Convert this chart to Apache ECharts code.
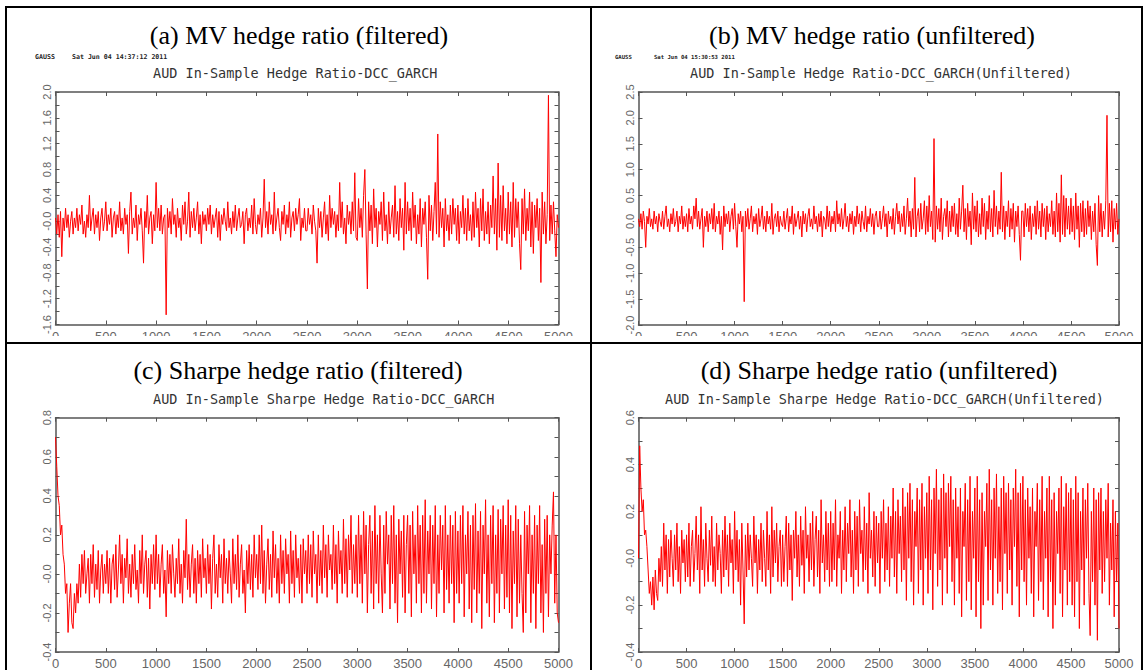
<!DOCTYPE html>
<html><head><meta charset="utf-8">
<script src="https://cdn.jsdelivr.net/npm/echarts@6/dist/echarts.min.js"></script>
<style>html,body{margin:0;padding:0;background:#fff;}#c{width:1144px;height:670px;}</style>
</head><body><div id="c"></div>
<script>
// ---------------- data ----------------
const sampleStep = 12.5; // spacing of the sampled observations (x units)
const panelTitles = ['(a) MV hedge ratio (filtered)', '(b) MV hedge ratio (unfiltered)',
                     '(c) Sharpe hedge ratio (filtered)', '(d) Sharpe hedge ratio (unfiltered)'];
const subTitles = ['AUD In-Sample Hedge Ratio-DCC_GARCH', 'AUD In-Sample Hedge Ratio-DCC_GARCH(Unfiltered)',
                   'AUD In-Sample Sharpe Hedge Ratio-DCC_GARCH', 'AUD In-Sample Sharpe Hedge Ratio-DCC_GARCH(Unfiltered)'];
const stampNames = ['GAUSS', 'GAUSS'];
const stampDates = ['Sat Jun 04 14:37:12 2011', 'Sat Jun 04 15:30:53 2011'];
const zeroLabels = ['-0.0', '0.0', '-0.0', '-0.0'];

const mvFiltered = [
 0.05,-0.2,0.1,-0.25,0.15,-0.55,0.05,-0.15,0.2,-0.1,0.1,-0.25,0.0,0.15,-0.2,0.05,-0.1,0.2,-0.15,0.1,
 -0.05,0.25,-0.2,0.0,-0.25,0.1,-0.1,0.4,-0.15,0.05,0.2,-0.2,0.1,-0.1,0.15,-0.3,0.05,0.2,-0.15,0.0,
 0.3,-0.15,0.1,-0.05,0.2,-0.25,0.05,0.15,-0.2,0.1,-0.1,0.3,-0.15,0.05,-0.2,0.2,-0.05,0.1,-0.5,0.15,
 0.45,-0.2,0.05,-0.1,0.25,-0.3,0.1,-0.05,0.2,-0.15,-0.65,0.15,-0.1,0.4,-0.2,0.05,0.15,-0.35,0.1,-0.15,
 0.6,-0.1,0.2,-0.15,0.25,-0.2,0.05,0.1,-1.45,0.2,-0.1,0.15,-0.2,0.35,-0.05,0.1,-0.25,0.2,-0.1,0.05,
 -0.3,0.25,-0.05,0.3,-0.2,0.0,0.45,-0.25,0.15,-0.1,0.2,-0.15,0.05,0.3,-0.2,0.1,-0.35,0.15,-0.05,0.1,
 -0.15,0.2,-0.05,0.25,-0.2,0.1,-0.1,0.05,0.2,-0.25,0.15,-0.3,0.1,-0.05,0.2,0.0,-0.15,0.3,-0.1,0.05,
 -0.2,0.15,-0.1,0.25,-0.15,0.05,0.2,-0.1,-0.05,0.15,-0.35,0.1,0.2,-0.15,0.05,-0.1,0.25,-0.2,0.35,-0.05,
 -0.2,0.1,-0.05,0.2,-0.25,0.05,0.65,-0.1,0.15,-0.2,0.3,-0.05,0.1,-0.2,0.45,-0.15,0.05,0.2,-0.1,-0.3,
 0.15,-0.05,0.25,-0.2,0.1,-0.1,0.3,-0.25,0.05,0.15,-0.15,0.2,-0.05,0.1,0.35,-0.3,0.05,-0.1,0.2,-0.15,
 -0.15,0.2,-0.05,0.1,-0.2,0.25,0.0,-0.15,-0.65,0.2,-0.1,0.15,-0.25,0.05,0.3,-0.2,0.1,-0.3,0.4,-0.1,
 0.2,-0.05,0.15,-0.25,0.1,-0.15,0.6,-0.1,0.3,-0.2,0.05,-0.35,0.25,-0.05,0.15,-0.2,0.3,-0.15,0.75,-0.25,
 -0.3,0.35,-0.1,0.2,-0.25,0.4,0.8,-0.2,-1.05,0.3,-0.15,0.25,-0.35,0.5,-0.1,0.2,-0.4,0.15,-0.05,0.3,
 -0.3,0.45,-0.15,0.1,-0.35,0.3,-0.2,0.05,0.25,-0.25,0.55,-0.2,0.15,-0.3,0.35,-0.1,0.2,-0.45,0.6,-0.2,
 0.3,-0.15,0.2,-0.3,0.45,-0.1,0.25,-0.35,0.1,-0.2,0.35,-0.4,0.2,-0.05,0.3,-0.25,-0.9,0.4,-0.15,0.25,
 -0.3,0.15,0.6,-0.2,1.35,-0.25,0.3,-0.1,0.2,-0.4,0.35,-0.15,0.1,-0.3,0.25,-0.2,0.35,-0.05,0.2,-0.3,
 0.25,-0.35,0.15,-0.1,0.4,-0.2,0.2,-0.3,0.35,-0.15,0.1,-0.3,0.3,-0.25,0.45,-0.1,0.2,-0.4,0.35,-0.15,
 0.5,-0.3,0.15,-0.2,0.3,-0.35,0.25,-0.1,0.7,-0.2,0.35,-0.45,0.9,-0.25,0.4,-0.3,0.55,-0.15,0.2,-0.35,
 0.45,-0.2,0.3,-0.4,0.6,-0.25,0.35,-0.1,0.3,-0.35,-0.75,0.35,-0.2,0.5,-0.3,0.2,-0.15,0.45,-0.4,0.3,
 -0.5,0.25,-0.1,0.35,-0.3,0.2,-0.95,0.45,-0.2,0.3,-0.35,0.1,1.95,-0.3,0.25,-0.2,0.3,-0.15,-0.55,0.1,
 -0.1];

const mvUnfiltered = [
 0.05,-0.1,0.15,-0.15,0.2,0.0,-0.5,0.1,-0.05,0.25,-0.1,0.05,-0.15,0.2,-0.05,0.1,-0.2,0.15,0.0,-0.1,
 0.2,-0.15,0.1,0.3,-0.1,0.05,-0.2,0.15,-0.05,0.25,-0.1,0.0,0.2,-0.2,0.1,-0.05,0.3,-0.15,0.1,-0.1,
 0.15,-0.2,0.25,-0.05,0.1,-0.15,0.3,0.05,0.45,-0.1,0.2,-0.15,0.05,0.25,-0.5,0.1,-0.1,0.2,-0.2,0.15,
 -0.05,0.25,-0.15,0.35,-0.2,0.1,-0.05,0.2,-0.25,0.1,-0.55,0.3,-0.1,0.15,-0.05,0.2,-0.2,0.1,0.25,-0.15,
 0.35,-0.1,-0.5,0.15,-0.05,0.2,-0.2,0.1,-1.55,0.2,-0.1,0.25,-0.15,0.05,0.3,-0.2,0.1,-0.05,0.15,-0.25,
 0.25,-0.1,0.05,0.3,-0.15,0.1,-0.2,0.2,-0.05,0.1,-0.15,0.35,-0.25,0.05,0.15,-0.1,0.2,-0.2,0.1,-0.05,
 -0.1,0.2,-0.15,0.05,0.25,-0.2,0.1,-0.05,0.3,-0.25,0.15,-0.1,0.05,0.2,-0.15,0.1,-0.3,0.2,-0.05,0.15,
 -0.2,0.1,0.25,-0.1,0.05,-0.15,0.3,-0.05,0.1,-0.2,0.15,-0.1,0.2,-0.3,0.1,0.05,-0.15,0.3,-0.1,0.2,
 -0.2,0.1,-0.05,0.2,-0.2,0.4,-0.05,0.15,-0.1,0.25,-0.15,0.05,0.35,-0.1,0.1,-0.2,0.15,-0.05,0.2,-0.25,
 0.1,-0.1,0.3,-0.05,0.15,-0.2,0.2,0.0,-0.15,0.3,-0.2,0.1,-0.05,0.25,-0.1,0.15,-0.25,0.1,0.2,-0.1,
 -0.1,0.2,-0.15,0.05,0.3,-0.1,0.15,-0.3,0.2,-0.05,0.1,-0.15,0.25,-0.25,0.1,0.35,-0.05,0.2,-0.2,0.15,
 -0.1,0.3,-0.25,0.05,0.45,-0.1,0.2,-0.3,0.25,-0.15,0.85,-0.3,0.1,0.25,-0.2,0.35,-0.15,0.05,0.4,-0.25,
 0.3,-0.2,0.5,-0.1,0.2,-0.35,1.6,-0.4,0.3,-0.15,0.25,-0.2,0.45,-0.35,0.1,0.25,-0.1,0.4,-0.3,0.2,
 -0.2,0.3,-0.1,0.35,-0.25,0.15,-0.3,0.45,-0.15,0.2,0.7,-0.2,0.25,-0.35,0.35,-0.1,0.2,-0.45,0.55,-0.15,
 0.3,-0.2,0.4,-0.3,0.15,-0.25,0.45,-0.1,0.35,-0.35,0.2,-0.15,0.5,-0.2,0.25,-0.3,0.6,-0.1,0.3,-0.25,
 0.2,-0.15,0.95,-0.2,0.3,-0.35,0.2,-0.1,0.4,-0.3,0.25,-0.15,0.35,-0.4,0.2,-0.1,0.3,-0.25,-0.75,0.2,
 0.2,-0.3,0.35,-0.1,0.25,-0.2,0.3,-0.35,0.15,-0.1,0.3,-0.25,0.4,-0.15,0.2,-0.3,0.35,-0.1,0.25,-0.35,
 0.3,-0.2,0.15,-0.1,0.4,-0.25,0.2,-0.3,0.55,-0.2,0.35,-0.4,0.9,-0.25,0.5,-0.3,0.45,-0.15,0.3,-0.25,
 0.45,-0.2,0.3,-0.35,0.55,-0.15,0.3,-0.5,0.35,-0.2,0.4,-0.3,0.25,-0.25,0.4,-0.1,0.3,-0.35,0.2,-0.2,
 0.35,-0.45,-0.85,0.5,-0.2,0.35,-0.3,0.2,-0.15,0.4,2.05,-0.3,0.35,-0.2,0.4,-0.4,0.25,-0.15,0.35,-0.25,
 0.05];

const sharpeFiltered = [
 0.7,0.55,0.4,0.35,0.2,0.25,0.1,0.05,-0.1,-0.05,-0.3,-0.15,-0.05,-0.25,-0.28,-0.1,-0.2,-0.05,-0.15,0.05,
 -0.12,0.1,-0.05,0.12,-0.1,0.0,0.08,-0.15,0.1,-0.05,0.15,-0.12,0.05,-0.08,0.12,-0.15,0.02,0.1,-0.1,0.05,
 -0.05,0.12,-0.1,0.08,-0.15,0.05,0.1,-0.08,0.15,-0.12,0.02,0.2,-0.05,0.1,-0.15,0.08,-0.02,0.18,-0.1,0.05,
 -0.12,0.1,-0.05,0.15,-0.08,0.02,-0.15,0.12,-0.05,0.2,-0.1,0.05,0.12,-0.12,0.08,-0.18,0.1,-0.05,0.15,-0.08,
 0.2,-0.05,0.1,-0.12,0.05,0.15,-0.1,0.02,-0.22,0.12,-0.05,0.1,-0.1,0.15,0.0,-0.12,0.08,-0.05,0.18,-0.1,
 0.05,-0.15,0.12,-0.02,0.28,-0.08,0.1,-0.12,0.05,0.15,-0.1,0.08,-0.15,0.12,-0.05,0.1,-0.12,0.18,-0.02,0.08,
 -0.1,0.15,-0.05,0.1,-0.18,0.08,0.2,-0.1,0.05,-0.12,0.15,-0.02,0.1,-0.15,0.18,-0.05,0.08,-0.1,0.12,0.0,
 -0.15,0.18,-0.05,0.1,-0.08,0.2,-0.12,0.05,0.15,-0.1,0.02,-0.2,0.12,-0.05,0.15,-0.08,0.1,-0.12,0.2,-0.02,
 0.1,-0.08,0.2,-0.05,0.25,-0.1,0.12,-0.15,0.05,0.18,-0.08,0.1,-0.12,0.22,-0.02,0.15,-0.1,0.08,-0.15,0.2,
 -0.05,0.12,-0.1,0.18,0.0,0.1,-0.15,0.22,-0.05,0.12,-0.12,0.2,-0.02,0.08,-0.1,0.15,-0.15,0.18,0.0,0.12,
 -0.1,0.2,-0.05,0.15,-0.12,0.22,0.0,0.1,-0.15,0.2,-0.06,0.12,-0.1,0.25,-0.02,0.15,-0.12,0.2,0.02,0.1,
 -0.08,0.25,-0.05,0.15,-0.15,0.22,0.0,0.12,-0.1,0.28,-0.05,0.18,-0.12,0.2,0.02,0.3,-0.1,0.15,-0.05,0.2,
 -0.12,0.3,-0.05,0.2,-0.15,0.32,0.0,0.25,-0.2,0.15,0.3,-0.1,0.22,-0.18,0.35,-0.05,0.2,-0.15,0.3,0.0,
 -0.2,0.25,-0.1,0.32,0.05,0.2,-0.18,0.3,-0.05,0.35,-0.15,0.2,-0.25,0.28,0.0,0.22,-0.12,0.3,-0.2,0.15,
 0.3,-0.1,0.25,-0.22,0.32,0.0,0.2,-0.15,0.35,-0.05,0.25,-0.2,0.3,-0.1,0.38,-0.15,0.22,0.0,0.3,-0.18,
 0.25,-0.05,0.35,-0.22,0.2,-0.1,0.3,0.02,0.25,-0.2,0.35,-0.08,0.2,-0.15,0.3,-0.05,0.25,-0.25,0.32,-0.1,
 0.22,-0.15,0.3,-0.05,0.35,-0.22,0.2,0.0,0.32,-0.18,0.25,-0.25,0.3,-0.08,0.36,-0.2,0.22,-0.1,0.32,-0.28,
 0.25,0.0,0.38,-0.15,0.2,-0.22,0.3,-0.05,0.35,-0.25,0.2,-0.1,0.33,-0.2,0.28,0.0,0.35,-0.18,0.25,-0.12,
 0.38,-0.2,0.3,-0.28,0.22,-0.05,0.35,-0.22,0.28,-0.15,0.2,-0.1,-0.3,0.32,-0.2,0.25,0.0,0.35,-0.25,0.2,
 -0.1,0.3,-0.28,0.25,-0.05,0.35,-0.2,0.15,-0.3,0.28,-0.1,0.3,-0.22,0.2,0.0,0.25,0.42,-0.15,0.2,-0.2,
 -0.25];

const sharpeUnfiltered = [
 0.0,0.48,0.3,0.2,0.25,0.1,0.12,0.05,-0.05,-0.15,-0.1,-0.2,-0.08,-0.22,-0.05,-0.15,-0.18,0.0,-0.1,0.05,
 -0.12,0.15,-0.05,0.1,-0.15,0.08,-0.08,0.12,0.0,-0.12,0.1,-0.05,0.15,-0.1,0.05,-0.15,0.12,-0.02,0.08,-0.1,
 0.1,-0.08,0.15,-0.12,0.05,0.12,-0.1,0.02,0.18,-0.05,0.1,-0.15,0.22,-0.05,0.08,-0.12,0.15,0.0,-0.1,0.12,
 -0.03,0.18,-0.1,0.05,-0.12,0.15,-0.05,0.1,0.02,-0.15,0.12,-0.08,0.18,-0.05,0.1,-0.12,0.15,-0.02,0.08,-0.15,
 0.2,-0.05,0.12,-0.1,0.08,-0.2,0.15,-0.05,-0.28,0.1,-0.08,0.15,-0.05,0.1,0.0,-0.12,0.18,-0.02,0.1,-0.15,
 0.08,-0.05,0.15,-0.1,0.12,0.0,-0.12,0.2,-0.05,0.1,-0.15,0.22,-0.08,0.12,-0.02,0.15,-0.1,0.05,0.12,-0.12,
 0.1,-0.1,0.05,0.18,-0.12,0.15,-0.05,0.1,-0.18,0.12,0.0,0.2,-0.08,0.1,-0.12,0.18,-0.03,0.12,-0.15,0.22,
 0.0,0.1,-0.1,0.15,-0.05,0.2,-0.12,0.08,0.18,-0.08,0.12,-0.15,0.25,-0.02,0.1,-0.1,0.2,-0.05,0.15,-0.12,
 0.2,-0.1,0.15,-0.05,0.25,-0.12,0.1,0.0,0.2,-0.15,0.12,-0.05,0.22,-0.1,0.15,0.02,0.25,-0.08,0.12,-0.15,
 0.2,-0.05,0.18,-0.12,0.25,0.02,0.12,-0.1,0.22,-0.05,0.15,-0.15,0.28,0.0,0.12,-0.08,0.2,-0.12,0.18,-0.02,
 0.15,-0.15,0.2,0.0,0.25,-0.1,0.15,-0.05,0.22,-0.12,0.18,0.0,0.3,-0.08,0.2,-0.15,0.25,0.02,0.18,-0.1,
 0.3,-0.05,0.22,-0.18,0.28,0.0,0.32,-0.1,0.25,-0.2,0.2,0.05,0.3,-0.15,0.25,-0.05,0.32,-0.2,0.22,0.0,
 0.28,-0.15,0.35,-0.05,0.25,-0.22,0.3,0.02,0.38,-0.12,0.25,-0.05,0.3,-0.2,0.36,0.0,0.28,-0.15,0.32,0.05,
 0.35,-0.1,0.25,-0.2,0.3,0.0,0.22,-0.15,0.3,-0.25,0.2,0.05,0.32,-0.18,0.25,-0.1,0.35,-0.22,0.2,0.0,
 0.3,-0.25,0.35,-0.1,0.25,-0.3,0.28,-0.2,0.2,0.05,0.32,-0.18,0.38,-0.05,0.25,-0.2,0.3,0.0,0.36,-0.15,
 0.22,-0.1,0.3,-0.22,0.35,0.02,0.28,-0.15,0.32,-0.05,0.25,-0.2,0.3,0.05,0.38,-0.12,0.28,-0.25,0.32,-0.05,
 0.35,-0.1,0.25,-0.2,0.3,0.0,0.22,-0.15,0.3,-0.25,0.2,0.05,0.32,-0.18,0.25,-0.1,0.35,-0.22,0.2,0.0,
 0.3,-0.25,0.35,-0.1,0.25,-0.3,0.28,-0.2,0.2,0.02,0.3,-0.15,0.35,-0.25,0.22,-0.05,0.32,-0.2,0.28,-0.1,
 0.3,-0.2,0.25,-0.25,0.35,-0.1,0.28,-0.3,0.2,-0.05,0.3,-0.2,0.25,0.0,0.32,-0.15,-0.33,0.2,-0.1,0.3,
 -0.2,0.25,-0.35,0.28,-0.05,0.3,-0.15,0.2,-0.1,0.25,0.0,0.32,-0.2,0.15,-0.05,0.25,-0.25,0.2,-0.1,0.15,
 -0.3];

const seriesList = [mvFiltered, mvUnfiltered, sharpeFiltered, sharpeUnfiltered];
const yRanges = [[-1.6, 2.0, 0.4], [-2.0, 2.5, 0.5], [-0.4, 0.8, 0.2], [-0.4, 0.6, 0.2]];
const yMinor = [true, false, true, true];

// ---------------- layout ----------------
const gridBoxes = [
  {left: 55.5, top: 92, width: 503, height: 232.5},
  {left: 638.5, top: 92, width: 480.5, height: 233},
  {left: 55.5, top: 417.7, width: 503, height: 237.6},
  {left: 638.5, top: 417.7, width: 480.5, height: 237.6}
];
const titlePos = [[299, 35], [872, 35], [298, 370], [879, 370]];
const subPos = [[153, 73], [690, 73], [153, 399], [665, 399]];

const axisColor = '#555';
const labelColor = '#666';

const xAxes = [], yAxes = [], series = [];
gridBoxes.forEach((g, i) => {
  const [ymin, ymax, yint] = yRanges[i];
  const baseX = {
    type: 'value', gridIndex: i, min: 0, max: 5000, interval: 500,
    axisLine: {show: true, onZero: false, lineStyle: {color: axisColor, width: 1.5}},
    axisTick: {show: true, inside: true, length: 4, lineStyle: {color: axisColor, width: 1}},
    splitLine: {show: false}
  };
  xAxes.push(Object.assign({}, baseX, {position: 'bottom',
    axisLabel: {show: true, margin: 5, fontSize: 13, color: labelColor, fontFamily: 'Liberation Sans',
      showMinLabel: true, showMaxLabel: true, formatter: v => String(v)}}));
  xAxes.push(Object.assign({}, baseX, {position: 'top', axisLabel: {show: false}}));
  const baseY = {
    type: 'value', gridIndex: i, min: ymin, max: ymax, interval: yint,
    axisLine: {show: true, onZero: false, lineStyle: {color: axisColor, width: 1.5}},
    axisTick: {show: true, inside: true, length: 4, lineStyle: {color: axisColor, width: 1}},
    minorTick: {show: yMinor[i], splitNumber: 2, length: 4, lineStyle: {color: axisColor, width: 1}},
    splitLine: {show: false}, minorSplitLine: {show: false}
  };
  yAxes.push(Object.assign({}, baseY, {position: 'left',
    axisLabel: {show: true, rotate: 90, margin: 3, fontSize: 11, color: labelColor,
      fontFamily: "'Liberation Sans Narrow', 'Liberation Sans', sans-serif",
      showMinLabel: true, showMaxLabel: true,
      formatter: v => Math.abs(v) < 1e-9 ? zeroLabels[i] : v.toFixed(1)}}));
  yAxes.push(Object.assign({}, baseY, {position: 'right', axisLabel: {show: false}}));
  series.push({
    type: 'line', xAxisIndex: 2 * i, yAxisIndex: 2 * i,
    data: seriesList[i].map((v, k) => [k * sampleStep, v]),
    showSymbol: false, symbol: 'none', clip: true,
    lineStyle: {color: '#ff0000', width: 1}, animation: false
  });
});

const graphics = [];
panelTitles.forEach((t, i) => {
  graphics.push({type: 'text', x: titlePos[i][0], y: titlePos[i][1], z: 10,
    style: {text: t, font: '26px "Liberation Serif", "Times New Roman", serif', fill: '#000',
      textAlign: 'center', textVerticalAlign: 'middle'}});
  graphics.push({type: 'text', x: subPos[i][0], y: subPos[i][1], z: 10,
    style: {text: subTitles[i], font: '13.5px "DejaVu Sans Mono", monospace', fill: '#333',
      textAlign: 'left', textVerticalAlign: 'middle'}});
});
const stampPos = [[35, 72, 57, 6.6], [615, 654, 57, 5.6]];
stampNames.forEach((s, i) => {
  const p = stampPos[i];
  graphics.push({type: 'text', x: p[0], y: p[2], z: 10,
    style: {text: s, font: 'bold ' + p[3] + 'px "DejaVu Sans Mono", monospace', fill: '#222',
      textAlign: 'left', textVerticalAlign: 'middle'}});
  graphics.push({type: 'text', x: p[1], y: p[2], z: 10,
    style: {text: stampDates[i], font: 'bold ' + p[3] + 'px "DejaVu Sans Mono", monospace', fill: '#222',
      textAlign: 'left', textVerticalAlign: 'middle'}});
});
// crop strip under the upper x labels
graphics.push({type: 'rect', z: 50, shape: {x: 8, y: 336, width: 1132, height: 6}, style: {fill: '#fff'}});
// table borders
const borderLines = [
  [5, 7, 1143, 7], [6, 6, 6, 670], [1142, 6, 1142, 670], [591, 6, 591, 670], [6, 343, 1142, 343]
];
borderLines.forEach(l => graphics.push({type: 'line', z: 60,
  shape: {x1: l[0], y1: l[1], x2: l[2], y2: l[3]}, style: {stroke: '#000', lineWidth: 2}}));

const chart = echarts.init(document.getElementById('c'), null, {renderer: 'svg'});
chart.setOption({
  animation: false,
  backgroundColor: '#fff',
  grid: gridBoxes.map(g => Object.assign({containLabel: false}, g)),
  xAxis: xAxes,
  yAxis: yAxes,
  series: series,
  graphic: graphics
});
</script>
</body></html>
